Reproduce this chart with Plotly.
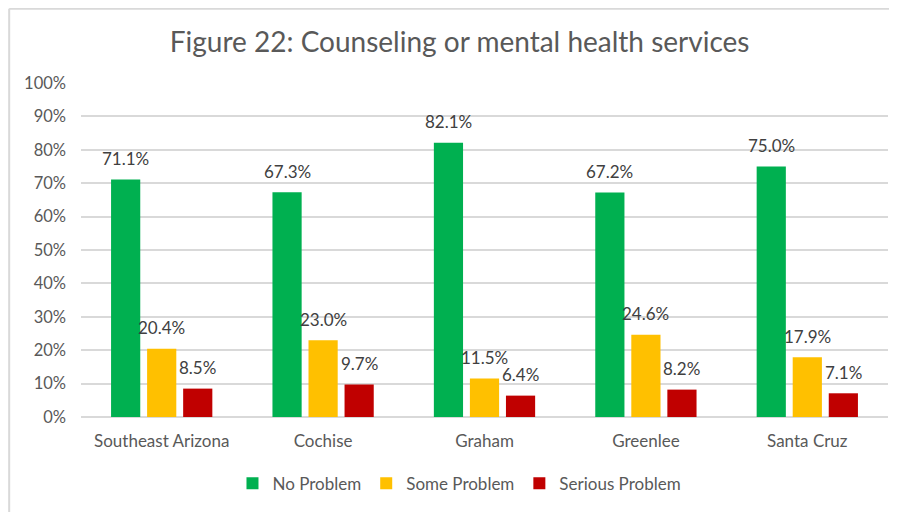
import plotly.graph_objects as go

categories = ["Southeast Arizona", "Cochise", "Graham", "Greenlee", "Santa Cruz"]
no_problem = [0.711, 0.673, 0.821, 0.672, 0.750]
some_problem = [0.204, 0.230, 0.115, 0.246, 0.179]
serious_problem = [0.085, 0.097, 0.064, 0.082, 0.071]
series_names = ["No Problem", "Some Problem", "Serious Problem"]
colors = ["#00B050", "#FFC000", "#C00000"]

FONT = "Lato, 'Open Sans', sans-serif"
TXT = "#595959"

W, H = 889, 504
ML, MR, MT, MB = 73, 9, 75, 95
BARGAP = 0.33
plot_w = W - ML - MR
slot_px = plot_w / len(categories) * (1 - BARGAP) / 3

fig = go.Figure()
all_series = [no_problem, some_problem, serious_problem]
for name, vals, col in zip(series_names, all_series, colors):
    fig.add_trace(go.Bar(
        name=name, x=categories, y=vals, marker=dict(color=col, line=dict(width=0)),
    ))

annotations = []
for i, vals in enumerate(all_series):
    for cat, v in zip(categories, vals):
        annotations.append(dict(
            x=cat, y=v, xref="x", yref="y", text=f"{v*100:.1f}%", showarrow=False,
            xshift=(i - 1) * slot_px, yshift=21, yanchor="middle",
            font=dict(size=17, color="#404040", family=FONT),
        ))

fig.update_layout(
    width=W, height=H,
    paper_bgcolor="white", plot_bgcolor="white",
    margin=dict(l=ML, r=MR, t=MT, b=MB),
    barmode="group", bargap=BARGAP, bargroupgap=0.19,
    title=dict(text="Figure 22: Counseling or mental health services", x=0.508, xanchor="center",
               y=0.9325, yanchor="middle", font=dict(size=28, color=TXT, family=FONT)),
    font=dict(family=FONT, color=TXT, size=16),
    legend=dict(orientation="h", x=0.469, xanchor="center", y=-0.2, yanchor="middle",
                font=dict(size=17, color=TXT, family=FONT), itemwidth=30, traceorder="normal"),
    annotations=annotations,
)
fig.update_yaxes(range=[0, 1], dtick=0.1, tickformat=".0%", showgrid=True, gridcolor="#D9D9D9",
                 gridwidth=1.5, zeroline=True, zerolinecolor="#D9D9D9", zerolinewidth=1.5,
                 tickfont=dict(size=16.5, color=TXT), ticks="", showline=False,
                 ticklabelstandoff=14)
fig.update_xaxes(showline=False, ticks="", tickfont=dict(size=17, color=TXT), ticklabelstandoff=12)

fig.add_shape(type="line", xref="paper", yref="paper", x0=-0.089, x1=-0.089, y0=1.222, y1=-0.3,
              line=dict(color="#D9D9D9", width=2))
fig.add_shape(type="line", xref="paper", yref="paper", x0=-0.089, x1=1.02, y0=1.222, y1=1.222,
              line=dict(color="#D9D9D9", width=2))

fig.write_html("out.html")
